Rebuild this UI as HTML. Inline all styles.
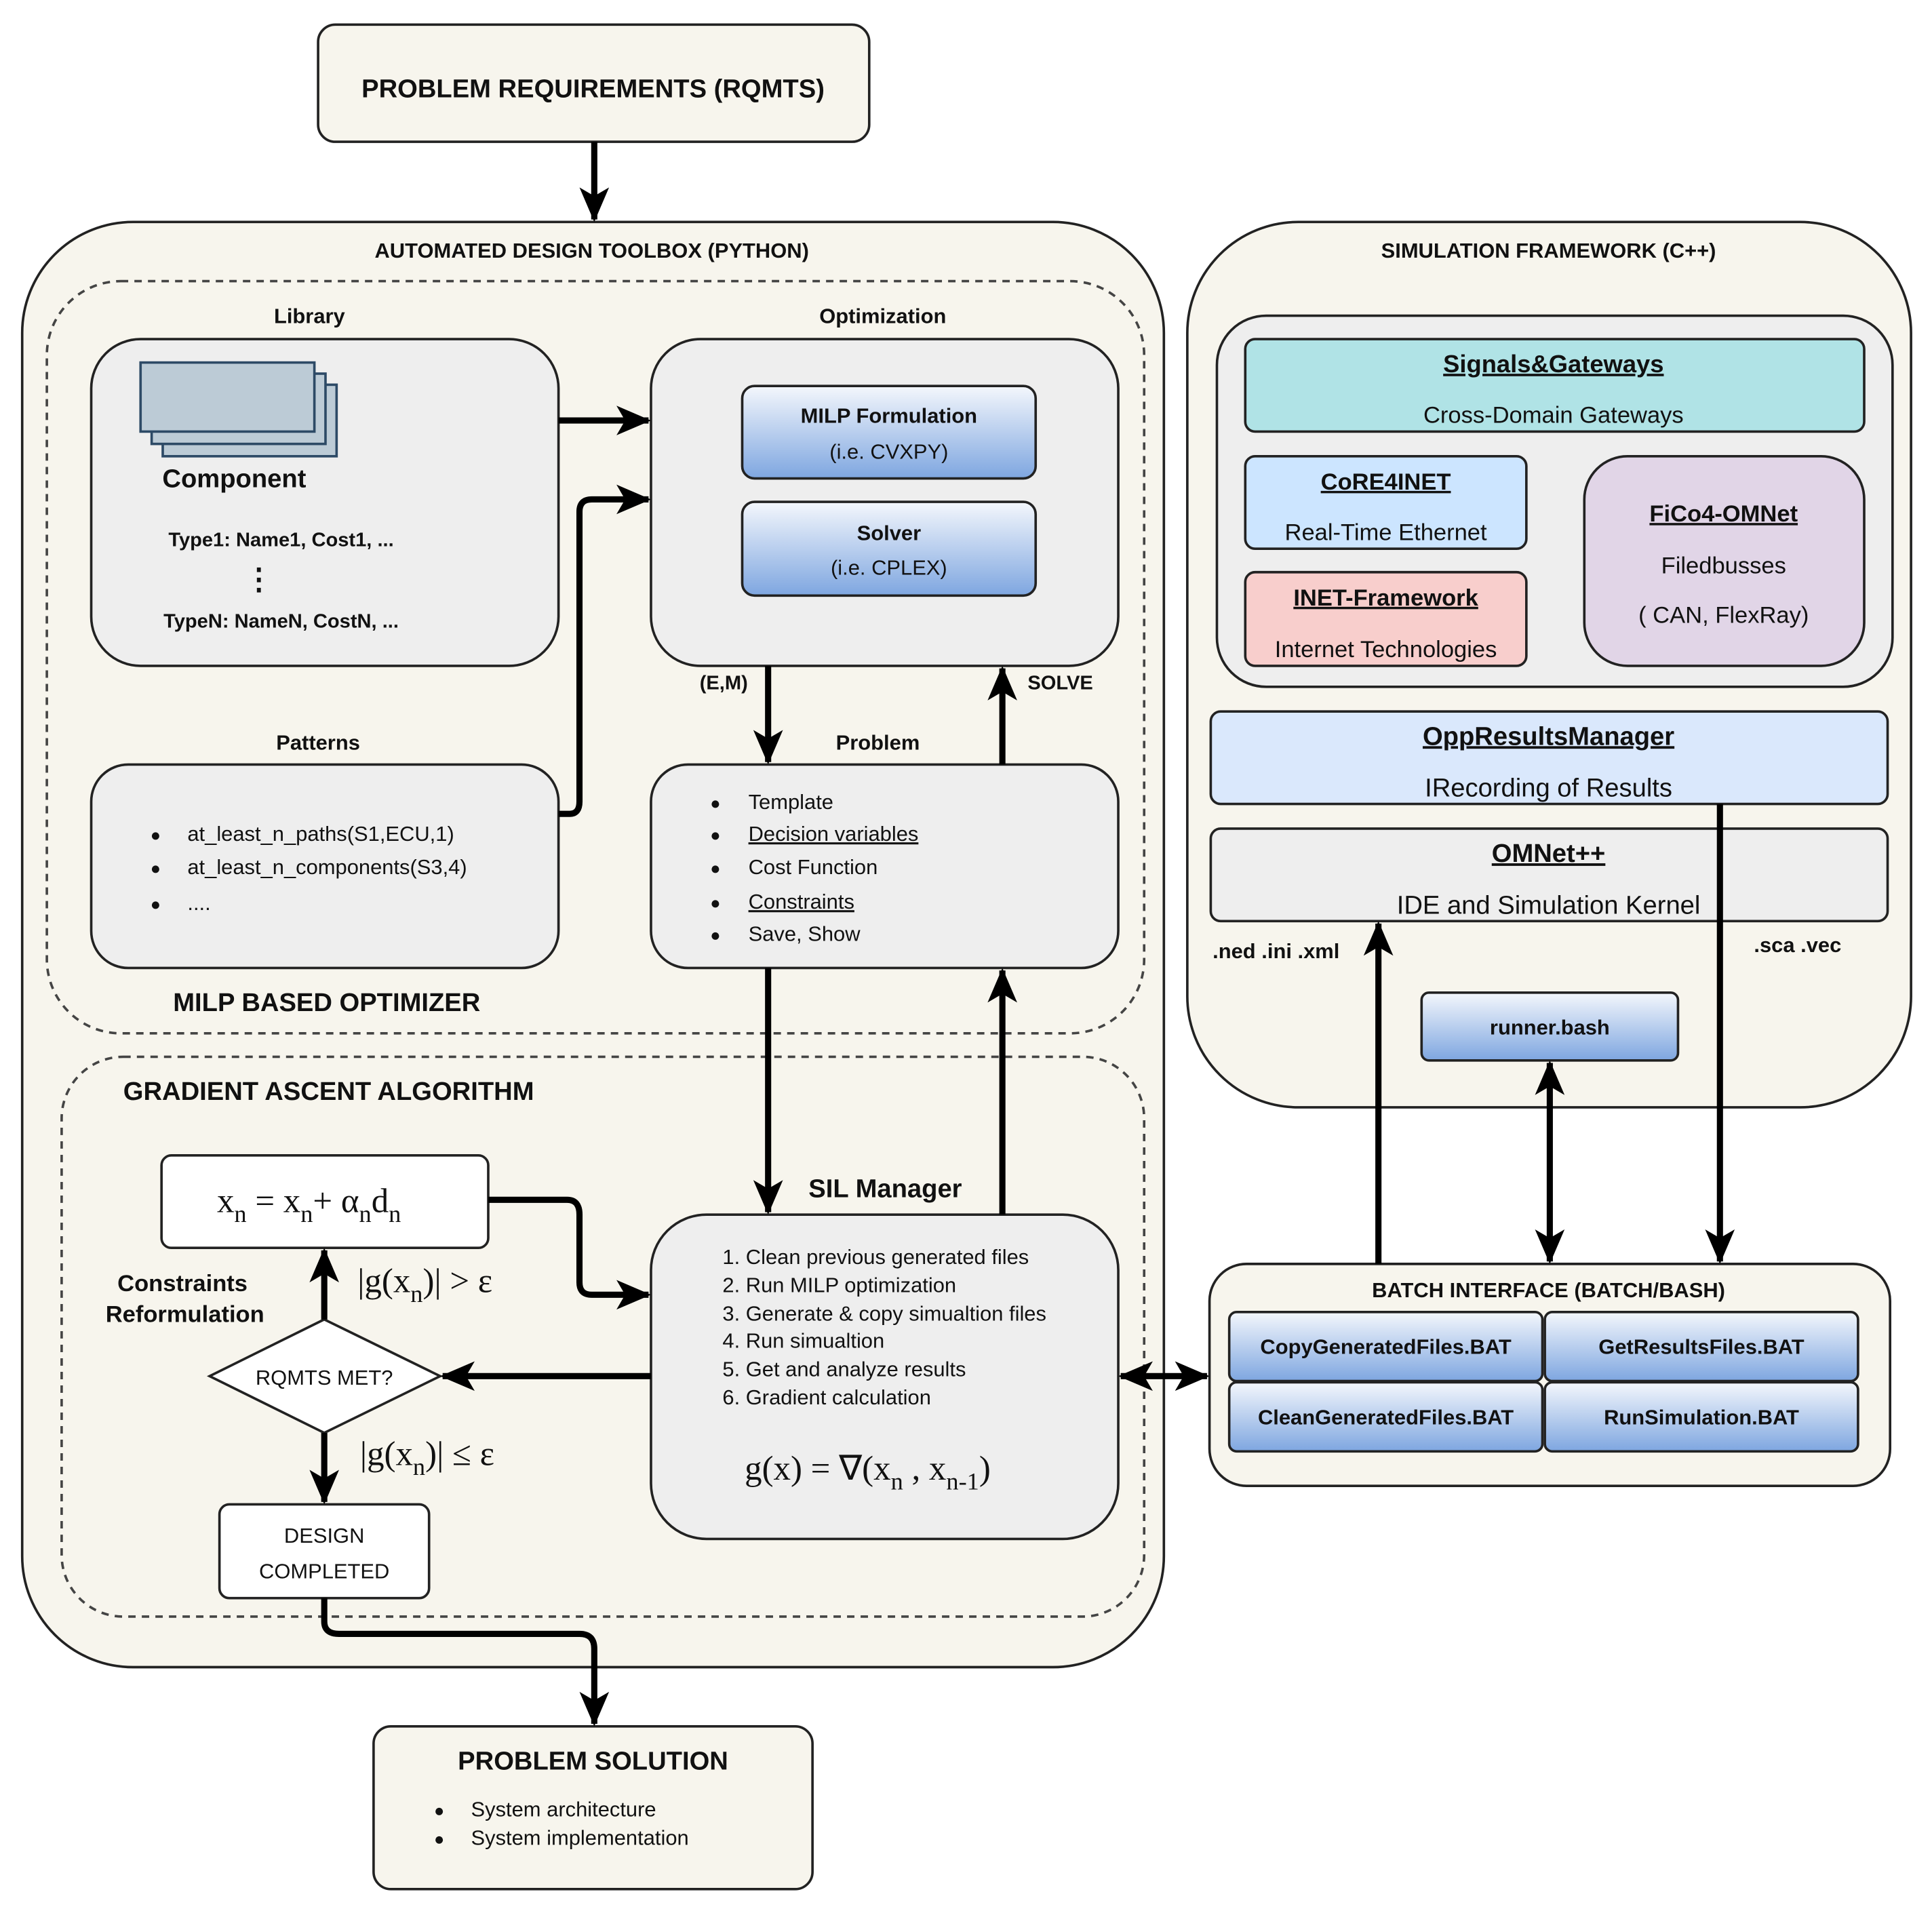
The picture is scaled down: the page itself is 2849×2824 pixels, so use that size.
<!DOCTYPE html>
<html><head><meta charset="utf-8"><style>
html,body{margin:0;padding:0;background:#fff}
svg{display:block}
text{font-family:"Liberation Sans",Arial,sans-serif;fill:#111}
.b{font-weight:bold}
.m{font-family:"Liberation Serif",serif}
</style></head><body>
<svg width="2849" height="2824" viewBox="0 0 1567 1553" preserveAspectRatio="none" xmlns="http://www.w3.org/2000/svg">
<defs>
<marker id="a" markerUnits="userSpaceOnUse" markerWidth="30" markerHeight="30" viewBox="0 0 30 30" refX="26" refY="15" orient="auto-start-reverse">
<path d="M0,3 L28,15 L0,27 L7,15 Z" fill="#000"/>
</marker>
<linearGradient id="g" x1="0" y1="0" x2="0" y2="1"><stop offset="0" stop-color="#f4f7fc"/><stop offset="1" stop-color="#7ea6e0"/></linearGradient>
</defs>
<rect width="1600" height="1600" fill="#fff"/>
<g stroke="#222" stroke-width="2">
<rect x="258" y="20" width="447" height="95" rx="14" fill="#f7f5ed"/>
<rect x="18" y="180" width="926" height="1172" rx="90" fill="#f7f5ed"/>
<rect x="38" y="228" width="890" height="610" rx="60" fill="none" stroke-dasharray="6,5" stroke="#444"/>
<rect x="50" y="857" width="878" height="454" rx="50" fill="none" stroke-dasharray="6,5" stroke="#444"/>
<rect x="74" y="275" width="379" height="265" rx="40" fill="#eeeeee"/>
<rect x="528" y="275" width="379" height="265" rx="40" fill="#eeeeee"/>
<rect x="74" y="620" width="379" height="165" rx="30" fill="#eeeeee"/>
<rect x="528" y="620" width="379" height="165" rx="30" fill="#eeeeee"/>
<rect x="528" y="985" width="379" height="263" rx="45" fill="#eeeeee"/>
<rect x="602" y="313" width="238" height="75" rx="10" fill="url(#g)"/>
<rect x="602" y="407" width="238" height="76" rx="10" fill="url(#g)"/>
<rect x="131" y="937" width="265" height="75" rx="8" fill="#fff"/>
<polygon points="263,1070 357,1116 263,1162 170,1116" fill="#fff"/>
<rect x="178" y="1220" width="170" height="76" rx="8" fill="#fff"/>
<rect x="303" y="1400" width="356" height="132" rx="14" fill="#f7f5ed"/>
<rect x="963" y="180" width="587" height="718" rx="90" fill="#f7f5ed"/>
<rect x="987" y="256" width="548" height="301" rx="40" fill="#eeeeee"/>
<rect x="1010" y="275" width="502" height="75" rx="8" fill="#b0e3e6"/>
<rect x="1010" y="370" width="228" height="75" rx="8" fill="#cce5ff"/>
<rect x="1010" y="464" width="228" height="76" rx="8" fill="#f8cecc"/>
<rect x="1285" y="370" width="227" height="170" rx="35" fill="#e1d5e7"/>
<rect x="982" y="577" width="549" height="75" rx="8" fill="#dae8fc"/>
<rect x="982" y="672" width="549" height="75" rx="8" fill="#eeeeee"/>
<rect x="1153" y="805" width="208" height="55" rx="6" fill="url(#g)"/>
<rect x="981" y="1025" width="552" height="180" rx="30" fill="#f7f5ed"/>
<rect x="997" y="1064" width="254" height="56" rx="6" fill="url(#g)"/>
<rect x="1253" y="1064" width="254" height="56" rx="6" fill="url(#g)"/>
<rect x="997" y="1121" width="254" height="56" rx="6" fill="url(#g)"/>
<rect x="1253" y="1121" width="254" height="56" rx="6" fill="url(#g)"/>
</g>
<g stroke="#2d4a66" stroke-width="2" fill="#bccbd6">
<rect x="132" y="312" width="141" height="58"/>
<rect x="123" y="303" width="141" height="57"/>
<rect x="114" y="294" width="141" height="56"/>
</g>
<g stroke="#000" stroke-width="5" fill="none" marker-end="url(#a)">
<path d="M482,115 V178"/>
<path d="M453,341 H526"/>
<path d="M453,660 H462 Q470,660 470,650 V415 Q470,405 480,405 H526"/>
<path d="M623,540 V618"/>
<path d="M813,620 V542"/>
<path d="M623,785 V983"/>
<path d="M813,985 V787"/>
<path d="M396,973 H460 Q470,973 470,985 V1040 Q470,1050 480,1050 H526"/>
<path d="M528,1116 H359"/>
<path d="M263,1070 V1014"/>
<path d="M263,1162 V1218"/>
<path d="M263,1296 V1315 Q263,1325 275,1325 H470 Q482,1325 482,1337 V1398"/>
<path d="M1118,1025 V749"/>
<path d="M1395,652 V1023"/>
<path d="M1257,862 V1023" marker-start="url(#a)"/>
<path d="M909,1116 H979" marker-start="url(#a)"/>
</g>
<g text-anchor="middle">
<text x="481" y="79" class="b" font-size="21">PROBLEM REQUIREMENTS (RQMTS)</text>
<text x="480" y="209" class="b" font-size="17">AUTOMATED DESIGN TOOLBOX (PYTHON)</text>
<text x="251" y="262" class="b" font-size="17">Library</text>
<text x="716" y="262" class="b" font-size="17">Optimization</text>
<text x="190" y="395" class="b" font-size="21">Component</text>
<text x="228" y="443" class="b" font-size="16">Type1: Name1, Cost1, ...</text>
<text x="210" y="478" class="b" font-size="24">⋮</text>
<text x="228" y="509" class="b" font-size="16">TypeN: NameN, CostN, ...</text>
<text x="721" y="343" class="b" font-size="17">MILP Formulation</text>
<text x="721" y="372" font-size="17">(i.e. CVXPY)</text>
<text x="721" y="438" class="b" font-size="17">Solver</text>
<text x="721" y="466" font-size="17">(i.e. CPLEX)</text>
<text x="258" y="608" class="b" font-size="17">Patterns</text>
<text x="712" y="608" class="b" font-size="17">Problem</text>
<text x="587" y="559" class="b" font-size="16">(E,M)</text>
<text x="860" y="559" class="b" font-size="16">SOLVE</text>
<text x="265" y="820" class="b" font-size="21">MILP BASED OPTIMIZER</text>
<text x="718" y="971" class="b" font-size="21">SIL Manager</text>
<text x="263" y="1123" font-size="17">RQMTS MET?</text>
<text x="263" y="1251" font-size="17">DESIGN</text>
<text x="263" y="1280" font-size="17">COMPLETED</text>
<text x="148" y="1047" class="b" font-size="19">Constraints</text>
<text x="150" y="1072" class="b" font-size="19">Reformulation</text>
<text x="481" y="1435" class="b" font-size="21">PROBLEM SOLUTION</text>
<text x="1256" y="209" class="b" font-size="17">SIMULATION FRAMEWORK (C++)</text>
<text x="1260" y="302" class="b" font-size="20" text-decoration="underline">Signals&amp;Gateways</text>
<text x="1260" y="343" font-size="19">Cross-Domain Gateways</text>
<text x="1124" y="397" class="b" font-size="19" text-decoration="underline">CoRE4INET</text>
<text x="1124" y="438" font-size="19">Real-Time Ethernet</text>
<text x="1124" y="491" class="b" font-size="19" text-decoration="underline">INET-Framework</text>
<text x="1124" y="533" font-size="19">Internet Technologies</text>
<text x="1398" y="423" class="b" font-size="19" text-decoration="underline">FiCo4-OMNet</text>
<text x="1398" y="465" font-size="19">Filedbusses</text>
<text x="1398" y="505" font-size="19">( CAN, FlexRay)</text>
<text x="1256" y="604" class="b" font-size="21" text-decoration="underline">OppResultsManager </text>
<text x="1256" y="646" font-size="21">IRecording of Results</text>
<text x="1256" y="699" class="b" font-size="21" text-decoration="underline">OMNet++</text>
<text x="1256" y="741" font-size="21">IDE and Simulation Kernel</text>
<text x="1035" y="777" class="b" font-size="17">.ned .ini .xml</text>
<text x="1458" y="772" class="b" font-size="17">.sca .vec</text>
<text x="1257" y="839" class="b" font-size="17">runner.bash</text>
<text x="1256" y="1052" class="b" font-size="17">BATCH INTERFACE (BATCH/BASH)</text>
<text x="1124" y="1098" class="b" font-size="17">CopyGeneratedFiles.BAT</text>
<text x="1380" y="1098" class="b" font-size="17">GetResultsFiles.BAT</text>
<text x="1124" y="1155" class="b" font-size="17">CleanGeneratedFiles.BAT</text>
<text x="1380" y="1155" class="b" font-size="17">RunSimulation.BAT</text>
</g>
<text x="100" y="892" class="b" font-size="21">GRADIENT ASCENT ALGORITHM</text>
<g font-size="17">
<text x="122" y="682" font-size="14">●</text><text x="152" y="682">at_least_n_paths(S1,ECU,1)</text>
<text x="122" y="709" font-size="14">●</text><text x="152" y="709">at_least_n_components(S3,4)</text>
<text x="122" y="738" font-size="14">●</text><text x="152" y="738">....</text>
<text x="576" y="656" font-size="14">●</text><text x="607" y="656">Template</text>
<text x="576" y="682" font-size="14">●</text><text x="607" y="682" text-decoration="underline">Decision variables</text>
<text x="576" y="709" font-size="14">●</text><text x="607" y="709">Cost Function</text>
<text x="576" y="737" font-size="14">●</text><text x="607" y="737" text-decoration="underline">Constraints</text>
<text x="576" y="763" font-size="14">●</text><text x="607" y="763">Save, Show</text>
<text x="586" y="1025">1. Clean previous generated files</text>
<text x="586" y="1048">2. Run MILP optimization</text>
<text x="586" y="1071">3. Generate &amp; copy simualtion files</text>
<text x="586" y="1093">4. Run simualtion</text>
<text x="586" y="1116">5. Get and analyze results</text>
<text x="586" y="1139">6. Gradient calculation</text>
<text x="352" y="1473" font-size="14">●</text><text x="382" y="1473">System architecture</text>
<text x="352" y="1496" font-size="14">●</text><text x="382" y="1496">System implementation</text>
</g>
<g class="m" font-size="28">
<text x="176" y="983" class="m">x<tspan font-size="20" dy="8">n</tspan><tspan dy="-8"> = x</tspan><tspan font-size="20" dy="8">n</tspan><tspan dy="-8">+ α</tspan><tspan font-size="20" dy="8">n</tspan><tspan dy="-8">d</tspan><tspan font-size="20" dy="8">n</tspan></text>
<text x="290" y="1048" class="m">|g(x<tspan font-size="20" dy="8">n</tspan><tspan dy="-8">)| &gt; ε</tspan></text>
<text x="292" y="1188" class="m">|g(x<tspan font-size="20" dy="8">n</tspan><tspan dy="-8">)| ≤ ε</tspan></text>
<text x="604" y="1200" class="m">g(x) = ∇(x<tspan font-size="20" dy="8">n</tspan><tspan dy="-8"> , x</tspan><tspan font-size="20" dy="8">n-1</tspan><tspan dy="-8">)</tspan></text>
</g>
</svg>
</body></html>
